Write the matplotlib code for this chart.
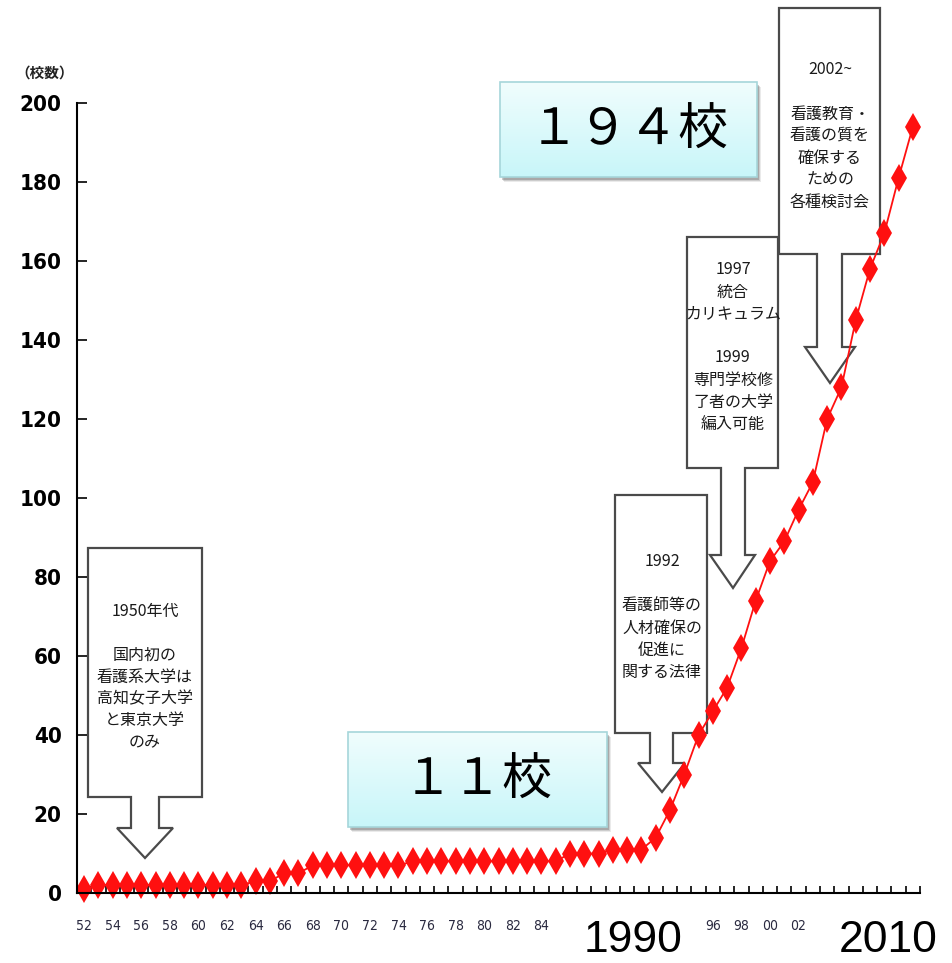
import numpy as np
import matplotlib.pyplot as plt
from matplotlib.patches import Polygon, Rectangle
from matplotlib.colors import LinearSegmentedColormap

plt.rcParams['font.family'] = ['Noto Sans CJK JP', 'DejaVu Sans']

# number of nursing universities per year
years = np.arange(1952, 2011)
schools = [1, 2, 2, 2, 2, 2, 2, 2, 2, 2, 2, 2,        # 1952-1963
           3, 3, 5, 5,                                # 1964-1967
           7, 7, 7, 7, 7, 7, 7,                       # 1968-1974
           8, 8, 8, 8, 8, 8, 8, 8, 8, 8, 8,           # 1975-1985
           10, 10, 10, 11, 11, 11,                    # 1986-1991
           14, 21, 30, 40, 46, 52, 62, 74, 84, 89, 97, 104,  # 1992-2003
           120, 128, 145, 158, 167, 181, 194]         # 2004-2010

label_years = list(range(1952, 1986, 2)) + [1996, 1998, 2000, 2002]
label_text = [f"{y % 100:02d}" for y in label_years]
y_ticks = list(range(0, 201, 20))

# callout boxes: (lines, centre x, first line y)
notes = [
    (["1950年代", "", "国内初の", "看護系大学は", "高知女子大学", "と東京大学", "のみ"], 145, 611),
    (["1992", "", "看護師等の", "人材確保の", "促進に", "関する法律"], 662, 562),
    (["1997", "統合", "カリキュラム", "", "1999", "専門学校修", "了者の大学", "編入可能"], 733, 270),
    (["2002~", "", "看護教育・", "看護の質を", "確保する", "ための", "各種検討会"], 830, 70),
]
# arrow outlines in pixels: box l, r, top, bottom, stem l, r, head y, head l, r, tip x, y
arrows = [
    (88, 202, 548, 797, 131, 159, 828, 117, 173, 145, 858),
    (615, 707, 495, 733, 650, 673, 763, 638, 685, 662, 792),
    (687, 778, 237, 468, 721, 745, 555, 710, 755, 733, 588),
    (779, 880, 8, 254, 817, 842, 347, 805, 855, 830, 383),
]
big_labels = [("１９４校", 500, 757, 82, 177), ("１１校", 348, 607, 732, 827)]

fig = plt.figure(figsize=(9.53, 9.63), dpi=100)

bg = fig.add_axes([0, 0, 1, 1], zorder=0)
bg.axis('off')

for (l, r, t, b, sl, sr, hy, hl, hr, tx, ty) in arrows:
    pts = [(l, t), (r, t), (r, b), (sr, b), (sr, hy), (hr, hy), (tx, ty),
           (hl, hy), (sl, hy), (sl, b), (l, b)]
    bg.add_patch(Polygon(pts, closed=True, facecolor='white', edgecolor='#4a4a4a', lw=1.6))

for lines, cx, y0 in notes:
    for i, s in enumerate(lines):
        if s:
            bg.text(cx, y0 + i * 22, s, ha='center', va='center', fontsize=11.5,
                    color='#1a1a1a')

cmap = LinearSegmentedColormap.from_list('cyan', ['#f0fdfd', '#c8f6f9'])
grad = np.linspace(0, 1, 64).reshape(-1, 1)
for txt, l, r, t, b in big_labels:
    for k, a in enumerate([0.12, 0.2, 0.3]):
        off = 5 - k
        bg.add_patch(Rectangle((l + off - 1, t + off), r - l, b - t, facecolor='#555555',
                               edgecolor='none', alpha=a))
    bg.imshow(grad, cmap=cmap, extent=(l, r, b, t), aspect='auto', zorder=2)
    bg.add_patch(Rectangle((l, t), r - l, b - t, facecolor='none', edgecolor='#a6d6da',
                           lw=1.2, zorder=3))
    bg.text((l + r) / 2, (t + b) / 2 + 1, txt, ha='center', va='center', fontsize=36,
            color='black', zorder=4)

bg.text(45, 73, "（校数）", ha='center', va='center', fontsize=10.5, fontweight='bold',
        color='#222222')
bg.text(633, 940, "1990", ha='center', va='center', fontsize=32, family='Liberation Sans')
bg.text(888, 940, "2010", ha='center', va='center', fontsize=32, family='Liberation Sans')

bg.set_xlim(0, 953)
bg.set_ylim(963, 0)

ax = fig.add_axes([77 / 953, 70 / 963, 843 / 953, 790 / 963], zorder=1)
ax.patch.set_alpha(0)
ax.plot(years, schools, color='#ff1010', lw=1.3, marker='d', markersize=14,
        markeredgewidth=0, clip_on=False)

ax.set_xlim(1951.5, 2010.5)
ax.set_ylim(0, 200)
ax.set_yticks(y_ticks)
ax.set_xticks(label_years)
ax.set_xticklabels(label_text)
ax.set_xticks(np.arange(1951.5, 2011, 1), minor=True)
ax.tick_params(axis='x', which='major', length=0, pad=19, labelsize=10, labelcolor='#2a2a40')
ax.tick_params(axis='x', which='minor', direction='in', length=5, width=1.2)
ax.tick_params(axis='y', direction='in', length=7, width=1.2, pad=11, labelsize=16)
for lbl in ax.get_yticklabels():
    lbl.set_family('DejaVu Sans')
    lbl.set_fontstretch('condensed')
    lbl.set_fontweight('bold')
for lbl in ax.get_xticklabels():
    lbl.set_family('DejaVu Sans')
    lbl.set_fontstretch('condensed')

ax.spines['top'].set_visible(False)
ax.spines['right'].set_visible(False)
ax.spines['left'].set_linewidth(1.5)
ax.spines['bottom'].set_linewidth(1.5)

fig.savefig('out.png', dpi=100)
